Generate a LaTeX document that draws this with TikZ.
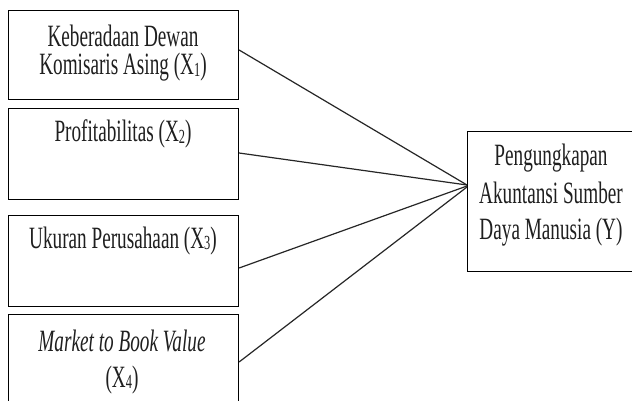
\documentclass[tikz,border=0pt]{standalone}
\usepackage{fontspec}
\usetikzlibrary{calc}
\setmainfont{Liberation Serif}[FakeStretch=0.62]
\newcommand{\sbx}[1]{{\fontsize{20}{20}\selectfont\raisebox{-1.5pt}{#1}}}
\begin{document}
\begin{tikzpicture}[x=1pt,y=-1pt,
  box/.style={draw=black,line width=1.1pt,minimum width=230pt,anchor=north west,inner sep=0pt},
  lbl/.style={font=\fontsize{31}{28}\selectfont,align=center,anchor=base,inner sep=0pt,text=black!88},
  link/.style={draw=black!85,line width=1.2pt}]
\clip (0,0) rectangle (632,401);
\fill[white] (0,0) rectangle (632,401);
% boxes
\node[box,minimum height=89pt] (b1) at (8,10) {};
\node[box,minimum height=91pt] (b2) at (8,108) {};
\node[box,minimum height=91pt] (b3) at (8,215) {};
\node[box,minimum height=100pt] (b4) at (8,314) {};
\node[box,minimum width=220pt,minimum height=140pt] (y) at (467,131) {};
% texts
\node[lbl] (t1a) at (123,47) {Keberadaan Dewan};
\node[lbl] (t1b) at (123,75) {Komisaris Asing (X\sbx{1})};
\node[lbl] (t2) at (123,142) {Profitabilitas (X\sbx{2})};
\node[lbl] (t3) at (123,248) {Ukuran Perusahaan (X\sbx{3})};
\node[lbl] (t4a) at (122,351) {\itshape Market to Book Value};
\node[lbl] (t4b) at (122,387) {(X\sbx{4})};
\node[lbl] (ya) at (551,166) {Pengungkapan};
\node[lbl] (yb) at (551,203) {Akuntansi Sumber};
\node[lbl] (yc) at (551,239) {Daya Manusia (Y)};
% connectors
\coordinate (c1) at ($(b1.north east)+(0,40)$);
\coordinate (c2) at ($(b2.north east)+(0,45)$);
\coordinate (c3) at ($(b3.north east)+(0,53)$);
\coordinate (c4) at ($(b4.north east)+(0,48)$);
\coordinate (m1) at ($(y.north west)+(0,54)$);
\coordinate (m2) at ($(y.north west)+(0,55)$);
\coordinate (m3) at ($(y.north west)+(0,56)$);
\path[link] (c1) -- (m1);
\path[link] (c2) -- (m1);
\path[link] (c3) -- (m2);
\path[link] (c4) -- (m3);
\end{tikzpicture}
\end{document}
